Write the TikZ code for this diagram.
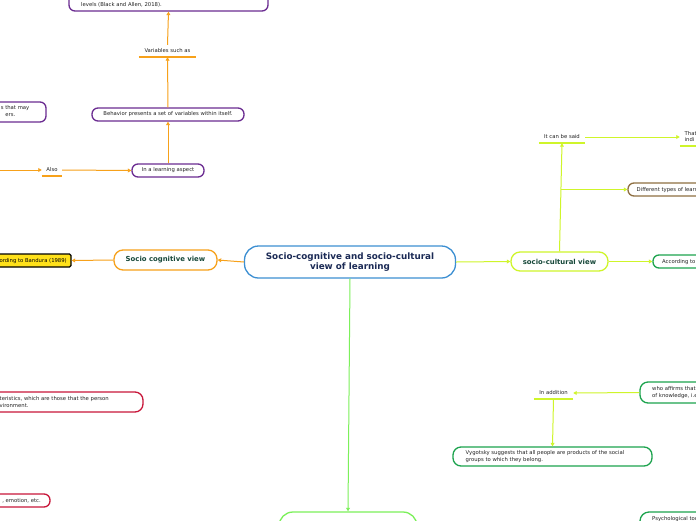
\documentclass[tikz,border=0pt]{standalone}
\usepackage{fontspec}
\setmainfont{DejaVu Sans}
\usetikzlibrary{arrows.meta}
\definecolor{orng}{HTML}{F7A11A}
\definecolor{purp}{HTML}{6B2C91}
\definecolor{ygrn}{HTML}{CFF52A}
\definecolor{grn}{HTML}{1DA34E}
\definecolor{bgrn}{HTML}{7CF05A}
\definecolor{redb}{HTML}{C8173A}
\definecolor{blub}{HTML}{3C8FD2}
\definecolor{navy}{HTML}{1B2A55}
\definecolor{dgrn}{HTML}{17483A}
\definecolor{brn}{HTML}{8E6F42}
\definecolor{txt}{HTML}{222222}
\definecolor{yelf}{HTML}{FFE11A}
\tikzset{
  box/.style={draw, rounded corners=6pt, line width=1.3pt, fill=white, inner sep=0pt},
  small/.style={font=\fontsize{5.3}{6.9}\selectfont, text=txt, inner sep=0pt},
  lbl/.style={small, minimum height=12pt, inner sep=0pt},
  title/.style={font=\bfseries\fontsize{6.9}{8}\selectfont, text=dgrn, inner sep=0pt},
  conn/.style={line width=1pt, -{Triangle[length=3.5pt,width=3.8pt]}},
  underl/.style={line width=2pt}
}
\begin{document}
\begin{tikzpicture}[x=1pt,y=-1pt]
\useasboundingbox (0,0) rectangle (696,520);
\clip (0,0) rectangle (696,520);
\fill[white] (0,0) rectangle (696,520);

% ---------- socio-cognitive branch (orange) ----------
\node[box, draw=purp, minimum width=199pt, minimum height=40pt] (top) at (168.5,-9) {};
\node[small, anchor=west] (toptxt) at (81,5) {levels (Black and Allen, 2018).};

\node[lbl, minimum width=57pt] (var) at (167.5,51) {Variables such as};
\draw[draw=orng, underl] (var.south west) -- (var.south east);

\node[box, draw=purp, small, minimum width=152pt, minimum height=13pt] (beh) at (168,114.5) {Behavior presents a set of variables within itself.};
\node[box, draw=purp, small, minimum width=72pt, minimum height=13pt] (learn) at (168,170.5) {In a learning aspect};

\node[lbl, minimum width=20pt] (also) at (52,170) {Also};
\draw[draw=orng, underl] (also.south west) -- (also.south east);
\coordinate (alsoin) at (0,170);

\node[box, draw=purp, minimum width=146pt, minimum height=20pt] (lp) at (-27,112) {};
\node[small, anchor=east] (lpt1) at (29.5,108.5) {s that may};
\node[small, anchor=east] (lpt2) at (15.5,115) {ers.};

\draw[orng, conn] (var.north) -- (top.south);
\draw[orng, conn] (beh.north) -- (var.south);
\draw[orng, conn] (learn.north) -- (beh.south);
\draw[orng, conn] (alsoin) -- (also.west);
\draw[orng, conn] (also.east) -- (learn.west);

\node[box, draw=orng, title, minimum width=103pt, minimum height=20pt, rounded corners=9pt] (scog) at (165.5,260) {Socio cognitive view};
\node[draw=black, fill=yelf, line width=1.3pt, rounded corners=1.5pt, minimum width=131pt, minimum height=13pt] (band) at (5.5,260.5) {};
\node[small, text=black, anchor=east] (bandt) at (67,260.8) {According to Bandura (1989)};

% ---------- central node ----------
\node[box, draw=blub, rounded corners=14pt, minimum width=211pt, minimum height=32pt, align=center,
      font=\bfseries\fontsize{8.8}{10.4}\selectfont, text=navy] (c) at (350,262)
      {Socio-cognitive and socio-cultural\\view of learning};

\draw[orng, conn] (c.west) -- (scog.east);
\draw[orng, conn] (scog.west) -- (band.east);

% ---------- socio-cultural branch ----------
\node[box, draw=ygrn, title, minimum width=97pt, minimum height=19pt, rounded corners=9pt] (scul) at (559.5,261.5) {socio-cultural view};
\draw[ygrn, conn] (c.east) -- (scul.west);

\node[box, draw=grn, minimum width=114pt, minimum height=13pt] (acc) at (710,261.5) {};
\node[small, anchor=west] (acct) at (662,262) {According to};
\draw[ygrn, conn] (scul.east) -- (acc.west);

\node[lbl, minimum width=46pt] (itcan) at (562,137) {It can be said};
\draw[draw=ygrn, underl] (itcan.south west) -- (itcan.south east);
\node[minimum width=40pt, minimum height=14pt, inner sep=0pt] (that) at (700,139) {};
\draw[draw=ygrn, underl] (that.south west) -- (that.south east);
\node[small, anchor=west, align=left] (thatt) at (684.5,136.5) {That\\indi};
\draw[ygrn, conn] (itcan.east) -- (that.west |- itcan.east);

\node[box, draw=brn, minimum width=112pt, minimum height=13pt] (diff) at (684,189.5) {};
\node[small, anchor=west] (difft) at (636.5,190) {Different types of learning};

\coordinate (br) at (561,189.5);
\draw[ygrn, conn] (scul.north) -- (itcan.south);
\draw[ygrn, conn] (br) -- (diff.west);

\node[box, draw=grn, minimum width=120pt, minimum height=21pt, rounded corners=8pt] (who) at (700,392.5) {};
\node[small, anchor=west, align=left] (whot) at (652,392.5) {who affirms that\\of knowledge, i.e.};

\node[lbl, minimum width=39pt] (inadd) at (553.5,393) {In addition};
\draw[draw=ygrn, underl] (inadd.south west) -- (inadd.south east);
\draw[ygrn, conn] (who.west) -- (inadd.east);

\node[box, draw=grn, minimum width=199pt, minimum height=19pt, rounded corners=8pt] (vyg) at (552.5,456.5) {};
\node[small, anchor=west, align=left] (vygt) at (465.5,456.5) {Vygotsky suggests that all people are products of the social\\groups to which they belong.};
\draw[ygrn, conn] (inadd.south) -- (vyg.north);

\node[box, draw=grn, minimum width=120pt, minimum height=36pt, rounded corners=9pt] (psy) at (700,530) {};
\node[small, anchor=west] (psyt) at (652,519.5) {Psychological tools};

% ---------- bottom branch ----------
\node[box, draw=bgrn, minimum width=138pt, minimum height=36pt, rounded corners=14pt] (bot) at (348,530) {};
\draw[bgrn, conn] (c.south) -- (bot.north);

% ---------- left red boxes ----------
\node[box, draw=redb, minimum width=243pt, minimum height=20pt, rounded corners=8pt] (red1) at (21.5,402) {};
\node[small, anchor=west, align=left] (red1t) at (-0.5,402) {teristics, which are those that the person\\vironment.};

\node[box, draw=redb, minimum width=150pt, minimum height=13pt] (red2) at (-25,500.5) {};
\node[small, anchor=east] (red2t) at (41,500.8) {, emotion, etc.};
\end{tikzpicture}
\end{document}
